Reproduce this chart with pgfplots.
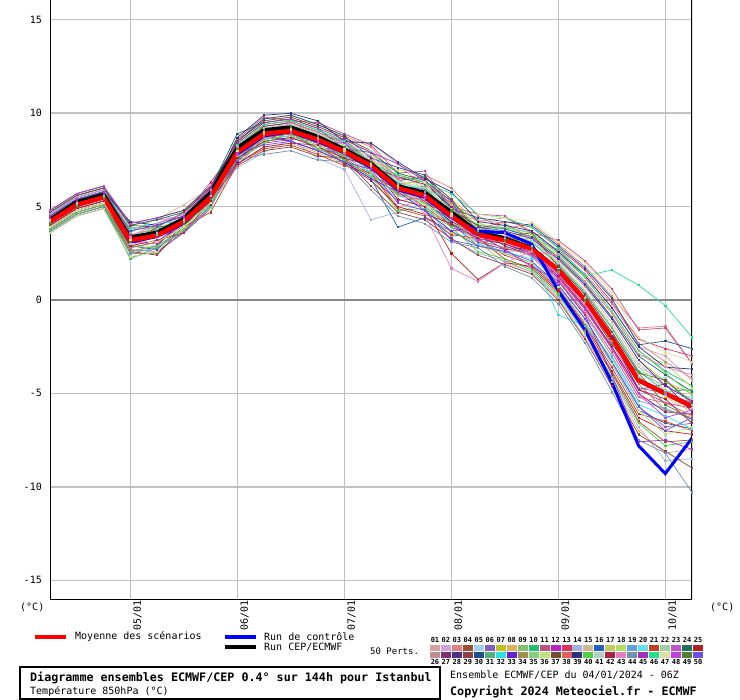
\documentclass[border=0pt]{standalone}
\usepackage{pgfplots}
\pgfplotsset{compat=1.18}
\usepackage{fontspec}
\setmainfont{DejaVu Sans Mono}
\setmonofont{DejaVu Sans Mono}
\definecolor{gridgray}{HTML}{C0C0C0}
\definecolor{zerogray}{HTML}{888888}
\definecolor{c1}{HTML}{D4A0A0}\definecolor{c2}{HTML}{D0A0E0}\definecolor{c3}{HTML}{E08080}
\definecolor{c4}{HTML}{A05030}\definecolor{c5}{HTML}{A0D0F0}\definecolor{c6}{HTML}{8060C0}
\definecolor{c7}{HTML}{C0C020}\definecolor{c8}{HTML}{E0B060}\definecolor{c9}{HTML}{80C070}
\definecolor{c10}{HTML}{20C070}\definecolor{c11}{HTML}{C05080}\definecolor{c12}{HTML}{C020C0}
\definecolor{c13}{HTML}{E03060}\definecolor{c14}{HTML}{A0B0E0}\definecolor{c15}{HTML}{D0B890}
\definecolor{c16}{HTML}{2060C0}\definecolor{c17}{HTML}{C8C860}\definecolor{c18}{HTML}{B0E060}
\definecolor{c19}{HTML}{60A0E0}\definecolor{c20}{HTML}{60E0F0}\definecolor{c21}{HTML}{C04020}
\definecolor{c22}{HTML}{A0D0A0}\definecolor{c23}{HTML}{C050D0}\definecolor{c24}{HTML}{207060}
\definecolor{c25}{HTML}{B02020}\definecolor{c26}{HTML}{C09090}\definecolor{c27}{HTML}{803070}
\definecolor{c28}{HTML}{503080}\definecolor{c29}{HTML}{904040}\definecolor{c30}{HTML}{205090}
\definecolor{c31}{HTML}{50B080}\definecolor{c32}{HTML}{30E0E0}\definecolor{c33}{HTML}{6020D0}
\definecolor{c34}{HTML}{A09050}\definecolor{c35}{HTML}{80D080}\definecolor{c36}{HTML}{C0E080}
\definecolor{c37}{HTML}{705030}\definecolor{c38}{HTML}{E06060}\definecolor{c39}{HTML}{303080}
\definecolor{c40}{HTML}{50D040}\definecolor{c41}{HTML}{B0D0C0}\definecolor{c42}{HTML}{B02040}
\definecolor{c43}{HTML}{E080C0}\definecolor{c44}{HTML}{7090B0}\definecolor{c45}{HTML}{A030C0}
\definecolor{c46}{HTML}{20E090}\definecolor{c47}{HTML}{E0E0A0}\definecolor{c48}{HTML}{C040E0}
\definecolor{c49}{HTML}{508030}\definecolor{c50}{HTML}{7050E0}
\newcommand{\nf}{\fontsize{10bp}{12bp}\selectfont}
\newcommand{\bfn}{\fontsize{11.7bp}{13bp}\selectfont\bfseries}
\pgfplotsset{mem/.style={line width=0.7bp, mark=square*, mark size=0.6bp, mark options={solid}}}
\begin{document}
\begin{tikzpicture}
\path[use as bounding box] (0,0) rectangle (740bp,700bp);
\begin{axis}[at={(50bp,100bp)}, anchor=south west, scale only axis,
  width=642bp, height=600bp, xmin=0, xmax=144, ymin=-16.07, ymax=16.07,
  axis line style={draw=none}, major tick length=0pt,
  xtick={18,42,66,90,114,138}, xticklabels={05/01,06/01,07/01,08/01,09/01,10/01},
  ytick={-15,-10,-5,0,5,10,15}, yticklabels={-15,-10,-5,0,5,10,15},
  grid=major, grid style={color=gridgray, line width=1bp},
  extra y ticks={-10,10}, extra y tick labels={},
  extra y tick style={grid style={color=gridgray, line width=2.2bp}},
  yticklabel style={font=\nf, anchor=east, inner sep=0pt, xshift=-8bp},
  xticklabel style={font=\nf, rotate=90, anchor=north east, inner sep=0pt, yshift=-3bp},
]
\addplot[zerogray, line width=2.6bp] coordinates {(0,0)(144,0)};
\addplot[mem,c1] coordinates {(0,4.5)(6,5.4)(12,5.8)(18,3.7)(24,4.0)(30,4.5)(36,5.8)(42,8.3)(48,9.4)(54,9.6)(60,9.1)(66,8.5)(72,8.4)(78,7.3)(84,6.0)(90,5.2)(96,4.2)(102,4.4)(108,3.7)(114,2.6)(120,1.3)(126,-0.4)(132,-2.5)(138,-3.0)(144,-4.3)};
\addplot[mem,c2] coordinates {(0,4.0)(6,4.9)(12,5.3)(18,2.9)(24,3.6)(30,4.0)(36,5.3)(42,8.1)(48,9.2)(54,9.4)(60,8.9)(66,7.8)(72,7.6)(78,6.4)(84,6.5)(90,4.9)(96,3.2)(102,2.8)(108,2.9)(114,1.1)(120,-0.7)(126,-2.8)(132,-5.2)(138,-5.9)(144,-6.2)};
\addplot[mem,c3] coordinates {(0,4.7)(6,5.6)(12,6.0)(18,4.0)(24,4.3)(30,4.4)(36,6.0)(42,8.5)(48,9.7)(54,9.9)(60,9.4)(66,8.8)(72,8.2)(78,6.5)(84,6.7)(90,6.0)(96,4.5)(102,3.8)(108,4.1)(114,3.0)(120,1.8)(126,0.2)(132,-1.5)(138,-1.4)(144,-3.4)};
\addplot[mem,c4] coordinates {(0,3.7)(6,4.6)(12,5.0)(18,2.5)(24,2.5)(30,3.7)(36,5.0)(42,7.6)(48,8.5)(54,8.7)(60,8.6)(66,7.6)(72,6.7)(78,5.9)(84,5.0)(90,4.0)(96,3.3)(102,2.2)(108,1.7)(114,0.4)(120,-1.6)(126,-3.9)(132,-6.5)(138,-7.6)(144,-7.5)};
\addplot[mem,c5] coordinates {(0,4.3)(6,5.2)(12,5.6)(18,3.0)(24,3.7)(30,4.3)(36,5.6)(42,7.7)(48,8.7)(54,8.9)(60,8.4)(66,7.8)(72,7.6)(78,5.7)(84,5.0)(90,4.2)(96,3.7)(102,3.9)(108,3.1)(114,1.9)(120,0.4)(126,-1.5)(132,-3.8)(138,-4.2)(144,-5.6)};
\addplot[mem,c6] coordinates {(0,4.6)(6,5.5)(12,5.9)(18,3.8)(24,4.1)(30,4.6)(36,5.9)(42,7.5)(48,9.0)(54,9.2)(60,8.7)(66,8.6)(72,7.3)(78,6.1)(84,5.7)(90,4.1)(96,2.9)(102,2.6)(108,2.7)(114,0.8)(120,-1.0)(126,-3.3)(132,-5.7)(138,-6.8)(144,-6.6)};
\addplot[mem,c7] coordinates {(0,3.9)(6,4.8)(12,5.2)(18,2.8)(24,3.5)(30,3.9)(36,5.2)(42,8.4)(48,9.5)(54,9.7)(60,8.8)(66,8.6)(72,7.9)(78,6.2)(84,6.4)(90,5.3)(96,3.9)(102,3.2)(108,3.3)(114,2.2)(120,0.8)(126,-1.0)(132,-3.2)(138,-4.4)(144,-5.0)};
\addplot[mem,c8] coordinates {(0,4.2)(6,5.1)(12,5.5)(18,3.2)(24,3.5)(30,3.7)(36,5.5)(42,7.3)(48,8.2)(54,8.4)(60,7.9)(66,7.3)(72,6.9)(78,5.0)(84,5.3)(90,3.6)(96,3.1)(102,2.0)(108,1.5)(114,0.1)(120,-2.0)(126,-4.4)(132,-7.0)(138,-8.2)(144,-8.0)};
\addplot[mem,c9] coordinates {(0,4.8)(6,5.7)(12,6.1)(18,3.6)(24,4.4)(30,4.8)(36,6.1)(42,8.1)(48,9.1)(54,9.3)(60,8.8)(66,7.6)(72,7.4)(78,6.3)(84,5.9)(90,5.4)(96,3.6)(102,3.4)(108,2.5)(114,1.8)(120,0.3)(126,-1.7)(132,-3.9)(138,-4.6)(144,-4.9)};
\addplot[mem,c10] coordinates {(0,3.6)(6,4.5)(12,4.9)(18,2.3)(24,2.6)(30,3.6)(36,4.9)(42,8.2)(48,8.6)(54,8.8)(60,8.3)(66,7.7)(72,7.5)(78,5.6)(84,5.2)(90,4.1)(96,3.5)(102,3.9)(108,3.6)(114,2.5)(120,1.2)(126,-0.6)(132,-2.7)(138,-3.8)(144,-4.6)};
\addplot[mem,c11] coordinates {(0,4.4)(6,5.3)(12,5.7)(18,3.5)(24,3.8)(30,4.4)(36,5.7)(42,8.6)(48,9.8)(54,9.6)(60,9.5)(66,8.9)(72,8.3)(78,6.8)(84,6.9)(90,5.0)(96,4.6)(102,4.5)(108,3.6)(114,3.2)(120,2.1)(126,0.6)(132,-1.6)(138,-1.5)(144,-3.4)};
\addplot[mem,c12] coordinates {(0,4.1)(6,5.0)(12,5.4)(18,3.1)(24,3.0)(30,4.1)(36,5.4)(42,7.5)(48,8.4)(54,8.6)(60,8.5)(66,7.5)(72,6.6)(78,5.3)(84,5.5)(90,3.9)(96,3.3)(102,3.0)(108,2.5)(114,1.3)(120,-0.4)(126,-2.5)(132,-4.8)(138,-5.5)(144,-5.8)};
\addplot[mem,c13] coordinates {(0,4.5)(6,5.4)(12,5.8)(18,3.7)(24,4.0)(30,4.5)(36,6.3)(42,8.2)(48,9.3)(54,9.5)(60,9.0)(66,8.4)(72,7.2)(78,6.6)(84,6.2)(90,5.0)(96,3.8)(102,4.2)(108,3.9)(114,2.8)(120,1.6)(126,-0.1)(132,-2.1)(138,-2.6)(144,-3.0)};
\addplot[mem,c14] coordinates {(0,3.8)(6,4.7)(12,5.1)(18,2.9)(24,2.9)(30,3.8)(36,5.1)(42,7.1)(48,7.9)(54,8.6)(60,7.6)(66,7.0)(72,4.3)(78,4.7)(84,5.2)(90,3.2)(96,2.5)(102,2.1)(108,1.5)(114,0.2)(120,-1.8)(126,-4.2)(132,-6.8)(138,-8.6)(144,-8.5)};
\addplot[mem,c15] coordinates {(0,4.7)(6,5.6)(12,6.0)(18,4.0)(24,4.3)(30,5.1)(36,6.0)(42,7.9)(48,8.9)(54,9.1)(60,8.6)(66,8.5)(72,7.2)(78,6.0)(84,5.6)(90,5.1)(96,3.9)(102,3.1)(108,3.3)(114,2.1)(120,0.7)(126,-1.2)(132,-3.4)(138,-4.6)(144,-5.3)};
\addplot[mem,c16] coordinates {(0,4.0)(6,4.9)(12,5.3)(18,2.9)(24,2.7)(30,4.0)(36,5.3)(42,7.4)(48,8.8)(54,8.5)(60,8.0)(66,7.4)(72,6.5)(78,3.9)(84,4.4)(90,3.7)(96,2.9)(102,2.5)(108,2.0)(114,0.7)(120,-1.2)(126,-3.4)(132,-5.9)(138,-6.6)(144,-6.9)};
\addplot[mem,c17] coordinates {(0,4.3)(6,5.2)(12,5.6)(18,3.4)(24,3.7)(30,4.3)(36,5.6)(42,8.0)(48,9.6)(54,9.8)(60,9.3)(66,8.7)(72,7.4)(78,7.0)(84,6.6)(90,5.4)(96,4.2)(102,3.3)(108,3.5)(114,1.7)(120,0.1)(126,-1.8)(132,-4.1)(138,-5.2)(144,-6.0)};
\addplot[mem,c18] coordinates {(0,3.7)(6,4.6)(12,5.0)(18,2.9)(24,2.8)(30,3.7)(36,5.0)(42,8.1)(48,9.1)(54,9.3)(60,8.8)(66,8.2)(72,7.4)(78,6.9)(84,5.9)(90,4.2)(96,4.1)(102,3.8)(108,3.5)(114,2.4)(120,1.0)(126,-0.7)(132,-2.9)(138,-3.4)(144,-4.7)};
\addplot[mem,c19] coordinates {(0,4.6)(6,5.5)(12,5.9)(18,3.8)(24,4.1)(30,4.6)(36,5.9)(42,7.7)(48,8.6)(54,8.8)(60,8.8)(66,7.7)(72,6.8)(78,5.6)(84,5.8)(90,4.1)(96,3.1)(102,3.2)(108,2.3)(114,1.0)(120,-0.8)(126,-3.0)(132,-5.4)(138,-5.8)(144,-6.4)};
\addplot[mem,c20] coordinates {(0,4.2)(6,5.1)(12,5.5)(18,3.2)(24,3.9)(30,4.2)(36,5.5)(42,7.6)(48,8.5)(54,8.7)(60,8.2)(66,8.1)(72,6.7)(78,5.4)(84,5.0)(90,3.4)(96,3.6)(102,3.3)(108,2.9)(114,1.7)(120,0.1)(126,-1.8)(132,-4.1)(138,-5.1)(144,-5.2)};
\addplot[mem,c21] coordinates {(0,3.9)(6,4.8)(12,5.2)(18,2.8)(24,3.1)(30,3.9)(36,4.7)(42,7.3)(48,8.1)(54,8.3)(60,7.8)(66,7.2)(72,6.8)(78,4.9)(84,4.5)(90,3.5)(96,3.3)(102,2.4)(108,1.9)(114,0.6)(120,-1.3)(126,-3.6)(132,-6.1)(138,-6.5)(144,-7.0)};
\addplot[mem,c22] coordinates {(0,4.4)(6,5.3)(12,5.7)(18,3.5)(24,3.8)(30,4.0)(36,5.7)(42,8.1)(48,9.2)(54,9.4)(60,8.9)(66,8.3)(72,7.6)(78,5.9)(84,6.0)(90,4.9)(96,3.8)(102,4.0)(108,3.2)(114,2.0)(120,0.5)(126,-1.4)(132,-3.6)(138,-4.3)(144,-5.6)};
\addplot[mem,c23] coordinates {(0,3.6)(6,4.5)(12,4.9)(18,2.7)(24,2.6)(30,3.6)(36,4.9)(42,7.8)(48,8.8)(54,9.0)(60,8.0)(66,7.9)(72,7.1)(78,5.9)(84,6.0)(90,4.4)(96,3.4)(102,3.0)(108,2.6)(114,1.4)(120,-0.3)(126,-2.3)(132,-4.7)(138,-5.0)(144,-5.5)};
\addplot[mem,c24] coordinates {(0,4.7)(6,5.6)(12,6.0)(18,4.0)(24,4.3)(30,4.7)(36,6.0)(42,8.9)(48,9.5)(54,9.7)(60,9.2)(66,8.1)(72,7.9)(78,6.8)(84,6.4)(90,4.8)(96,4.0)(102,3.8)(108,3.4)(114,2.3)(120,0.9)(126,-0.9)(132,-3.0)(138,-4.0)(144,-4.9)};
\addplot[mem,c25] coordinates {(0,4.1)(6,5.0)(12,5.4)(18,3.1)(24,3.8)(30,4.1)(36,5.4)(42,7.6)(48,8.5)(54,8.7)(60,8.2)(66,7.6)(72,7.2)(78,5.4)(84,5.0)(90,2.5)(96,1.1)(102,2.0)(108,1.8)(114,0.5)(120,-1.4)(126,-3.8)(132,-6.3)(138,-7.0)(144,-7.2)};
\addplot[mem,c26] coordinates {(0,4.5)(6,5.4)(12,5.8)(18,3.3)(24,4.0)(30,4.5)(36,5.8)(42,8.0)(48,9.0)(54,9.6)(60,8.7)(66,8.1)(72,7.3)(78,6.1)(84,5.2)(90,4.6)(96,4.3)(102,4.1)(108,3.3)(114,2.7)(120,1.4)(126,-0.2)(132,-2.3)(138,-3.3)(144,-4.2)};
\addplot[mem,c27] coordinates {(0,3.8)(6,4.7)(12,5.1)(18,2.6)(24,2.9)(30,4.3)(36,5.1)(42,8.2)(48,9.3)(54,9.5)(60,9.0)(66,8.4)(72,7.1)(78,6.6)(84,6.2)(90,5.0)(96,3.8)(102,2.9)(108,2.4)(114,1.2)(120,-0.5)(126,-2.6)(132,-5.0)(138,-6.0)(144,-6.1)};
\addplot[mem,c28] coordinates {(0,4.8)(6,5.7)(12,6.1)(18,4.1)(24,4.4)(30,4.8)(36,6.1)(42,8.2)(48,8.7)(54,8.9)(60,8.4)(66,7.8)(72,7.0)(78,6.3)(84,5.3)(90,4.2)(96,3.5)(102,2.7)(108,2.8)(114,1.6)(120,0.0)(126,-2.0)(132,-4.8)(138,-4.5)(144,-6.0)};
\addplot[mem,c29] coordinates {(0,4.0)(6,4.9)(12,5.3)(18,2.6)(24,2.4)(30,4.0)(36,5.3)(42,7.2)(48,8.0)(54,8.2)(60,7.7)(66,7.6)(72,6.1)(78,4.7)(84,4.3)(90,3.3)(96,2.4)(102,1.9)(108,1.4)(114,0.0)(120,-2.1)(126,-4.6)(132,-7.2)(138,-8.1)(144,-9.0)};
\addplot[mem,c30] coordinates {(0,4.3)(6,5.2)(12,5.6)(18,3.4)(24,3.7)(30,4.3)(36,6.1)(42,8.5)(48,9.7)(54,9.9)(60,9.4)(66,8.8)(72,7.6)(78,7.1)(84,6.7)(90,4.9)(96,4.4)(102,4.2)(108,4.0)(114,2.9)(120,1.7)(126,0.1)(132,-2.4)(138,-2.2)(144,-2.6)};
\addplot[mem,c31] coordinates {(0,3.7)(6,4.6)(12,5.0)(18,2.2)(24,2.8)(30,3.7)(36,5.0)(42,7.8)(48,8.8)(54,9.0)(60,8.1)(66,7.9)(72,7.1)(78,5.9)(84,6.1)(90,4.4)(96,3.7)(102,3.4)(108,3.1)(114,1.9)(120,0.4)(126,-1.5)(132,-3.8)(138,-4.9)(144,-4.8)};
\addplot[mem,c32] coordinates {(0,4.6)(6,5.5)(12,5.9)(18,3.8)(24,4.1)(30,4.2)(36,5.9)(42,8.1)(48,9.1)(54,9.3)(60,8.8)(66,7.7)(72,7.4)(78,6.3)(84,5.9)(90,5.4)(96,3.0)(102,2.6)(108,2.2)(114,-0.8)(120,-1.4)(126,-3.1)(132,-5.6)(138,-6.2)(144,-6.9)};
\addplot[mem,c33] coordinates {(0,4.2)(6,5.1)(12,5.5)(18,3.2)(24,3.1)(30,4.2)(36,5.5)(42,7.4)(48,8.9)(54,8.5)(60,8.0)(66,7.4)(72,6.5)(78,5.8)(84,4.8)(90,3.7)(96,3.9)(102,3.7)(108,3.3)(114,2.2)(120,0.8)(126,-1.0)(132,-3.2)(138,-4.6)(144,-5.4)};
\addplot[mem,c34] coordinates {(0,3.9)(6,4.8)(12,5.2)(18,2.8)(24,3.1)(30,3.9)(36,5.2)(42,7.8)(48,9.4)(54,9.6)(60,9.1)(66,8.5)(72,7.3)(78,6.7)(84,6.3)(90,5.2)(96,3.4)(102,3.6)(108,2.7)(114,1.5)(120,-0.1)(126,-2.2)(132,-4.5)(138,-5.9)(144,-6.3)};
\addplot[mem,c35] coordinates {(0,4.4)(6,5.3)(12,5.7)(18,3.9)(24,3.8)(30,4.4)(36,5.7)(42,7.7)(48,8.6)(54,8.8)(60,8.3)(66,8.2)(72,6.8)(78,5.6)(84,5.2)(90,4.1)(96,3.6)(102,3.9)(108,3.6)(114,2.5)(120,1.2)(126,-0.6)(132,-2.7)(138,-3.9)(144,-5.1)};
\addplot[mem,c36] coordinates {(0,3.6)(6,4.5)(12,4.9)(18,2.3)(24,2.6)(30,4.0)(36,4.9)(42,7.9)(48,8.9)(54,9.1)(60,9.0)(66,8.0)(72,7.2)(78,6.0)(84,5.1)(90,4.5)(96,2.9)(102,2.5)(108,2.0)(114,0.7)(120,-1.2)(126,-3.4)(132,-5.9)(138,-7.2)(144,-6.8)};
\addplot[mem,c37] coordinates {(0,4.7)(6,5.6)(12,6.0)(18,4.0)(24,3.9)(30,4.7)(36,6.0)(42,8.5)(48,9.6)(54,9.8)(60,9.3)(66,8.7)(72,8.0)(78,6.4)(84,6.6)(90,5.4)(96,3.6)(102,3.4)(108,3.6)(114,1.8)(120,0.3)(126,-1.7)(132,-3.9)(138,-4.3)(144,-5.5)};
\addplot[mem,c38] coordinates {(0,4.1)(6,5.0)(12,5.4)(18,3.1)(24,3.4)(30,4.1)(36,5.4)(42,7.2)(48,8.7)(54,8.9)(60,8.4)(66,7.8)(72,7.5)(78,5.7)(84,5.3)(90,4.7)(96,3.2)(102,2.8)(108,2.4)(114,1.1)(120,-0.7)(126,-2.8)(132,-5.2)(138,-5.5)(144,-6.2)};
\addplot[mem,c39] coordinates {(0,4.5)(6,5.4)(12,5.8)(18,4.2)(24,4.0)(30,4.5)(36,5.8)(42,8.7)(48,9.9)(54,10.0)(60,9.6)(66,8.5)(72,8.4)(78,7.4)(84,6.5)(90,5.8)(96,4.2)(102,4.0)(108,3.7)(114,2.6)(120,1.3)(126,-0.4)(132,-2.5)(138,-3.6)(144,-3.7)};
\addplot[mem,c40] coordinates {(0,3.8)(6,4.7)(12,5.1)(18,2.6)(24,2.9)(30,3.8)(36,5.6)(42,7.5)(48,8.4)(54,9.0)(60,8.1)(66,7.5)(72,6.6)(78,4.8)(84,4.9)(90,3.9)(96,2.6)(102,2.2)(108,1.6)(114,0.3)(120,-1.7)(126,-4.1)(132,-6.6)(138,-7.8)(144,-7.6)};
\addplot[mem,c41] coordinates {(0,4.3)(6,5.2)(12,5.6)(18,3.4)(24,4.1)(30,4.3)(36,5.6)(42,8.1)(48,9.2)(54,9.4)(60,8.9)(66,8.3)(72,8.0)(78,6.4)(84,6.0)(90,4.9)(96,3.8)(102,3.0)(108,3.2)(114,2.0)(120,0.5)(126,-1.4)(132,-3.6)(138,-4.8)(144,-5.8)};
\addplot[mem,c42] coordinates {(0,4.0)(6,4.9)(12,5.3)(18,2.9)(24,3.2)(30,3.6)(36,5.3)(42,7.3)(48,8.2)(54,8.4)(60,8.3)(66,7.3)(72,6.4)(78,5.0)(84,4.6)(90,4.1)(96,3.3)(102,3.0)(108,2.5)(114,1.3)(120,-0.4)(126,-2.5)(132,-4.8)(138,-5.3)(144,-6.6)};
\addplot[mem,c43] coordinates {(0,4.6)(6,5.5)(12,5.9)(18,3.4)(24,4.1)(30,4.6)(36,5.9)(42,8.2)(48,8.8)(54,9.5)(60,9.0)(66,8.4)(72,7.7)(78,6.6)(84,4.6)(90,1.7)(96,1.0)(102,2.0)(108,2.6)(114,2.4)(120,1.0)(126,-0.7)(132,-2.9)(138,-3.6)(144,-4.0)};
\addplot[mem,c44] coordinates {(0,3.7)(6,4.6)(12,5.0)(18,2.5)(24,2.8)(30,3.7)(36,5.0)(42,7.5)(48,7.8)(54,8.0)(60,7.5)(66,7.4)(72,5.9)(78,4.5)(84,4.1)(90,3.1)(96,2.8)(102,1.8)(108,1.2)(114,-0.2)(120,-2.3)(126,-4.9)(132,-7.5)(138,-8.2)(144,-10.3)};
\addplot[mem,c45] coordinates {(0,4.4)(6,5.3)(12,5.7)(18,3.5)(24,3.4)(30,4.4)(36,5.7)(42,8.4)(48,9.5)(54,9.7)(60,9.2)(66,8.6)(72,7.9)(78,7.3)(84,6.4)(90,5.3)(96,3.1)(102,2.7)(108,1.8)(114,1.0)(120,-0.8)(126,-4.0)(132,-7.6)(138,-7.5)(144,-8.0)};
\addplot[mem,c46] coordinates {(0,4.2)(6,5.1)(12,5.5)(18,3.2)(24,3.5)(30,4.2)(36,5.0)(42,8.3)(48,9.4)(54,9.6)(60,9.1)(66,8.5)(72,7.3)(78,6.7)(84,6.3)(90,5.7)(96,4.6)(102,4.4)(108,3.9)(114,2.8)(120,1.3)(126,1.6)(132,0.8)(138,-0.3)(144,-2.0)};
\addplot[mem,c47] coordinates {(0,3.9)(6,4.8)(12,5.2)(18,3.2)(24,3.1)(30,3.9)(36,5.2)(42,8.0)(48,9.0)(54,9.2)(60,8.2)(66,8.1)(72,7.3)(78,6.1)(84,6.3)(90,4.6)(96,4.6)(102,4.4)(108,4.2)(114,3.1)(120,2.0)(126,0.4)(132,-2.0)(138,-2.8)(144,-3.3)};
\addplot[mem,c48] coordinates {(0,4.8)(6,5.7)(12,6.1)(18,4.1)(24,4.4)(30,4.4)(36,6.1)(42,7.8)(48,8.8)(54,9.0)(60,8.5)(66,8.4)(72,7.1)(78,5.9)(84,5.5)(90,4.4)(96,3.2)(102,3.4)(108,2.4)(114,1.2)(120,-0.5)(126,-2.6)(132,-5.0)(138,-6.3)(144,-5.9)};
\addplot[mem,c49] coordinates {(0,4.1)(6,5.0)(12,5.4)(18,3.1)(24,3.9)(30,4.1)(36,5.4)(42,8.1)(48,9.1)(54,9.3)(60,8.8)(66,8.2)(72,7.4)(78,5.8)(84,5.9)(90,4.8)(96,4.0)(102,3.2)(108,2.8)(114,1.6)(120,0.0)(126,-2.4)(132,-3.9)(138,-5.6)(144,-6.4)};
\addplot[mem,c50] coordinates {(0,4.5)(6,5.4)(12,5.8)(18,3.7)(24,4.0)(30,4.5)(36,5.8)(42,7.9)(48,8.3)(54,8.5)(60,8.0)(66,7.4)(72,7.0)(78,5.2)(84,4.8)(90,3.2)(96,2.9)(102,2.6)(108,2.1)(114,0.8)(120,-1.0)(126,-3.3)(132,-5.7)(138,-7.0)(144,-6.3)};
% HRES run
\addplot[black, line width=4bp] coordinates {(0,4.3)(6,5.25)(12,5.65)(18,3.35)(24,3.6)(30,4.35)(36,5.75)(42,8.15)(48,9.1)(54,9.25)(60,8.75)(66,8.05)(72,7.3)(78,6.1)(84,5.75)(90,4.7)(96,3.65)(102,3.3)(108,2.8)(114,1.6)(120,0.0)(126,-2.0)(132,-4.3)(138,-5.0)(144,-5.7)};
% control run
\addplot[blue, line width=3bp] coordinates {(0,4.2)(6,5.1)(12,5.5)(18,3.1)(24,3.4)(30,4.1)(36,5.5)(42,7.8)(48,8.8)(54,9.0)(60,8.5)(66,7.9)(72,7.1)(78,5.9)(84,5.5)(90,4.4)(96,3.7)(102,3.6)(108,3.0)(114,0.5)(120,-1.6)(126,-4.4)(132,-7.8)(138,-9.3)(144,-7.4)};
% ensemble mean
\addplot[red, line width=4.5bp] coordinates {(0,4.2)(6,5.1)(12,5.5)(18,3.2)(24,3.45)(30,4.2)(36,5.5)(42,7.9)(48,8.9)(54,9.05)(60,8.6)(66,7.95)(72,7.2)(78,6.0)(84,5.6)(90,4.5)(96,3.5)(102,3.2)(108,2.75)(114,1.6)(120,0.0)(126,-2.0)(132,-4.3)(138,-5.0)(144,-5.7)};
\draw[black, line width=1.5bp] (rel axis cs:0,1) -- (rel axis cs:0,0) -- (rel axis cs:1,0) -- (rel axis cs:1,1);
\end{axis}
\begin{scope}[shift={(0,700bp)}, x=1bp, y=-1bp, font=\nf]
\node[anchor=west, inner sep=0pt] at (20,607) {(°C)};
\node[anchor=west, inner sep=0pt] at (710,607) {(°C)};
\draw[red, line width=4bp] (35,637) -- (66,637);
\node[anchor=west, inner sep=0pt] at (75,637) {Moyenne des scénarios};
\draw[blue, line width=4bp] (225,637) -- (256,637);
\node[anchor=west, inner sep=0pt] at (264,637) {Run de contrôle};
\draw[black, line width=4bp] (225,647) -- (256,647);
\node[anchor=west, inner sep=0pt] at (264,647) {Run CEP/ECMWF};
\node[anchor=west, inner sep=0pt, font=\fontsize{9bp}{10bp}\selectfont] at (370,651) {50 Perts.};
\foreach \i in {1,...,25} {
  \pgfmathtruncatemacro{\j}{\i+25}
  \fill[c\i] ({430+(\i-1)*10.96},645) rectangle ({440+(\i-1)*10.96},651);
  \fill[c\j] ({430+(\i-1)*10.96},652) rectangle ({440+(\i-1)*10.96},658);
  \node[anchor=base, inner sep=0pt, font=\fontsize{7bp}{8bp}\selectfont\bfseries] at ({435+(\i-1)*10.96},643) {\ifnum\i<10 0\fi\i};
  \node[anchor=base, inner sep=0pt, font=\fontsize{7bp}{8bp}\selectfont\bfseries] at ({435+(\i-1)*10.96},665) {\j};
}
\draw[black, line width=1.2bp] (20,667) rectangle (440,699);
\node[anchor=west, inner sep=0pt, font=\bfn] at (30,677.5) {Diagramme ensembles ECMWF/CEP 0.4° sur 144h pour Istanbul};
\node[anchor=west, inner sep=0pt] at (30,691.5) {Température 850hPa (°C)};
\node[anchor=west, inner sep=0pt] at (450,675.5) {Ensemble ECMWF/CEP du 04/01/2024 - 06Z};
\node[anchor=west, inner sep=0pt, font=\bfn] at (450,691.5) {Copyright 2024 Meteociel.fr - ECMWF};
\end{scope}
\end{tikzpicture}
\end{document}
